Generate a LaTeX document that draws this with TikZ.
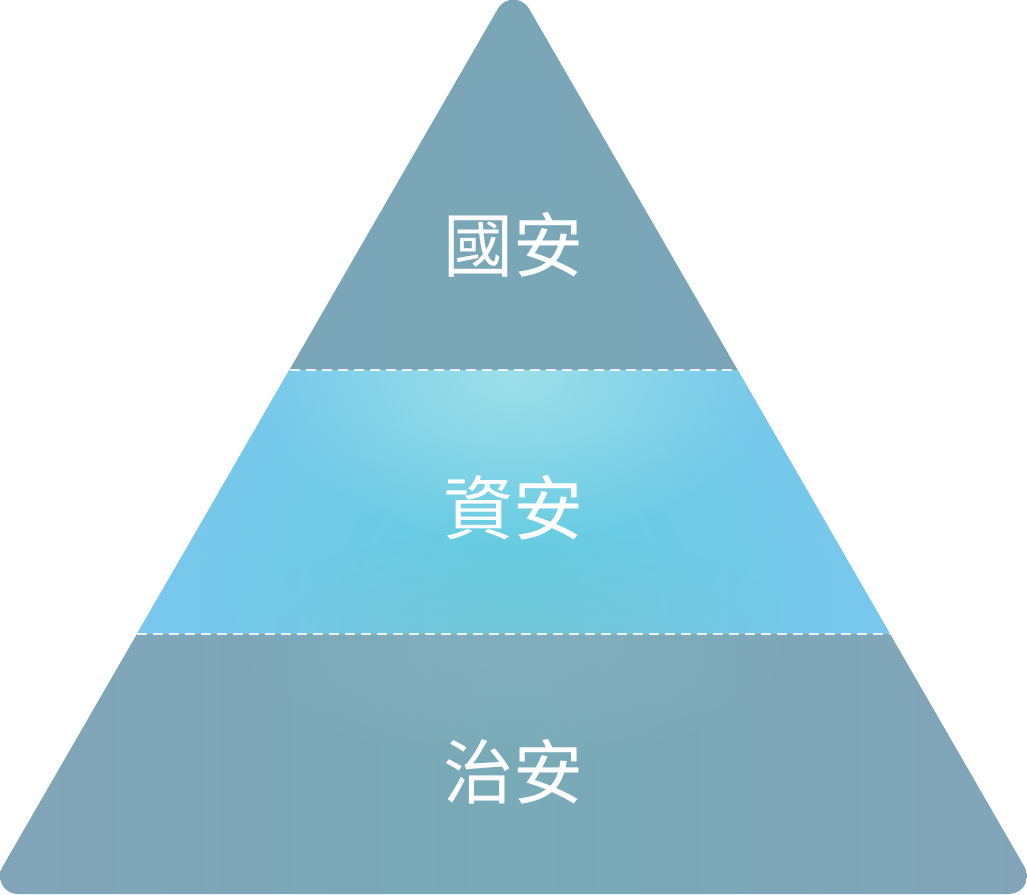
\documentclass[tikz,border=0pt]{standalone}
\usepackage{fontspec}
\newfontfamily\cjk{Noto Sans CJK TC}
\usetikzlibrary{fadings}
\definecolor{topc}{HTML}{7AA6B8}
\definecolor{topedge}{HTML}{80A4B8}
\definecolor{botc}{HTML}{78AAB8}
\definecolor{botedge}{HTML}{82A4B9}
\definecolor{midedge}{HTML}{7EC6EF}
\definecolor{midcore}{HTML}{62CDDF}
\definecolor{midglow}{HTML}{A2E2EA}
\tikzfading[name=glowfade, inner color=transparent!0, outer color=transparent!100]
\tikzset{
  label/.style={text=white, font=\cjk\fontsize{70}{80}\selectfont, inner sep=0pt},
  divider/.style={white, opacity=0.85, line width=1.2pt, dash pattern=on 10pt off 6pt}
}
\begin{document}
\begin{tikzpicture}[x=1pt,y=-1pt]
\useasboundingbox (0,0) rectangle (1027,894);
\begin{scope}
  \clip (18,894) arc(90:210:18) -- (497.9,8.7) arc(210:330:18) -- (1024.6,867) arc(330:450:18) -- cycle;
  % top band
  \shade[left color=topedge, right color=topedge, middle color=topc] (-20,-20) rectangle (1047,370);
  \fill[color=botc, path fading=glowfade, opacity=0.5] (513,300) circle (220);
  % middle band
  \shade[inner color=midcore, outer color=midedge] (0,370) rectangle (1027,634);
  \begin{scope}
    \clip (0,370) rectangle (1027,634);
    \shade[inner color=midcore, outer color=midedge] (513,600) circle (430);
    \fill[color=midglow, path fading=glowfade, opacity=0.9] (513,375) ellipse (260 and 170);
  \end{scope}
  % bottom band
  \shade[left color=botedge, right color=botedge, middle color=botc] (-20,634) rectangle (1047,910);
  \fill[color=topc!80!white, path fading=glowfade, opacity=0.35] (513,650) ellipse (300 and 120);
\end{scope}
\draw[divider] (290,370) -- (737,370);
\draw[divider] (137,634) -- (890,634);
\node[label] (guoan) at (513,245) {國安};
\node[label] (zian) at (513,508) {資安};
\node[label] (zhian) at (513,772) {治安};
\end{tikzpicture}
\end{document}
